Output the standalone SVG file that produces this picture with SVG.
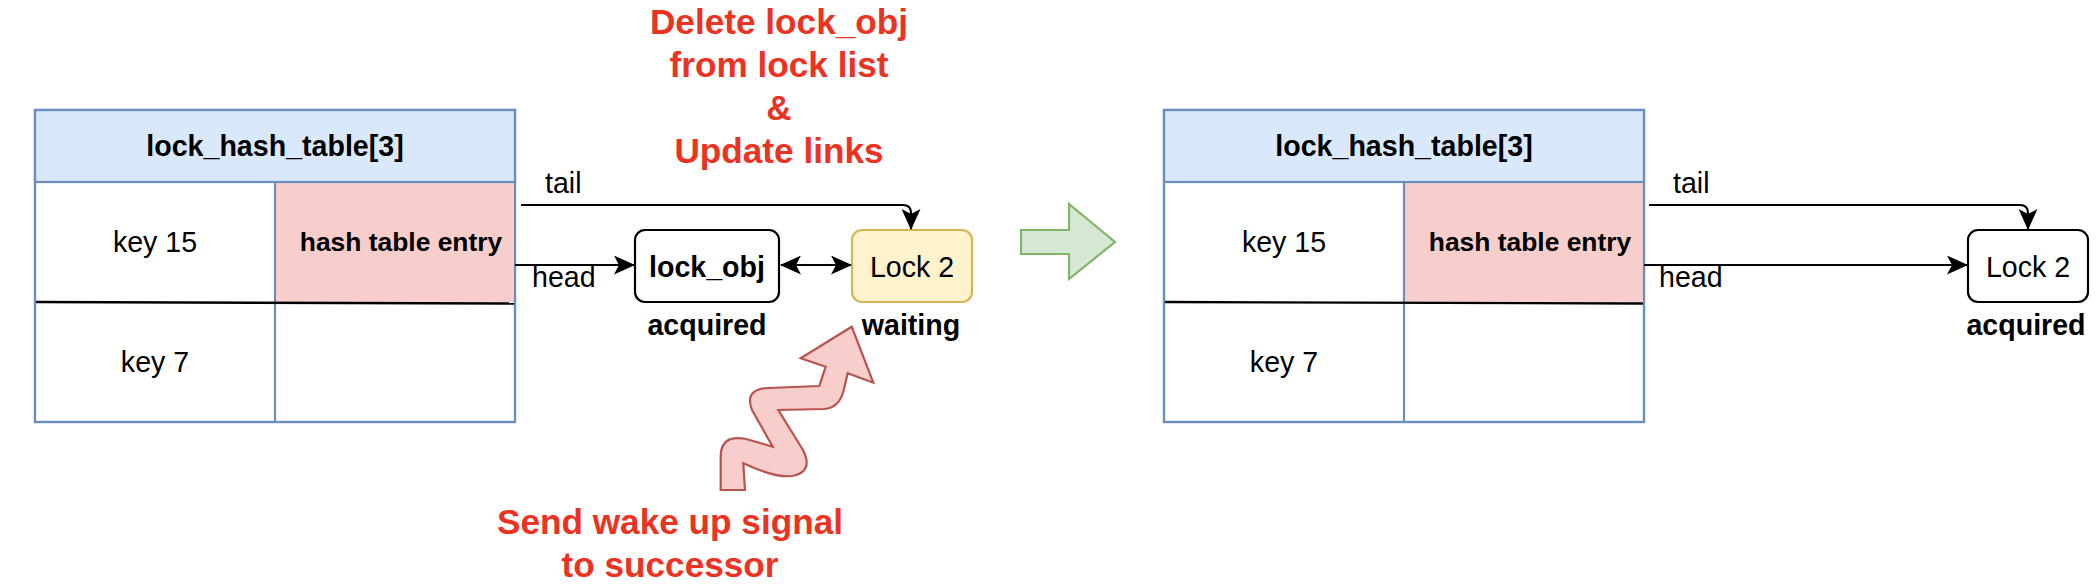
<svg xmlns="http://www.w3.org/2000/svg" width="2098" height="588" viewBox="0 0 2098 588">
<style>
  text { font-family: "Liberation Sans", Arial, Helvetica, sans-serif; fill: #000; }
  .t13 { font-size: 28.6px; }
  .b { font-weight: bold; }
  .t12 { font-size: 26.4px; }
  .red { font-size: 35.2px; font-weight: bold; fill: #ea3323; }
  .mid { text-anchor: middle; }
  .tbl { fill: #ffffff; stroke: #6c8ebf; stroke-width: 2.2; }
  .hdr { fill: #dae8fc; stroke: #6c8ebf; stroke-width: 2.2; }
  .pink { fill: #f8cecc; stroke: none; }
  .div { stroke: #6c8ebf; stroke-width: 2.2; fill: none; }
  .row { stroke: #000; stroke-width: 2.4; fill: none; }
  .lock { fill: #ffffff; stroke: #000; stroke-width: 2.2; }
  .lockw { fill: #fff2cc; stroke: #d6b656; stroke-width: 2.2; }
  .edge { fill: none; stroke: #000; stroke-width: 2.2; }
</style>
<defs>
  <marker id="arr" markerUnits="userSpaceOnUse" viewBox="0 0 21 19" refX="20" refY="9.5" markerWidth="21" markerHeight="19" orient="auto-start-reverse">
    <path d="M0,0 L21,9.5 L0,19 L5,9.5 Z" fill="#000"/>
  </marker>
</defs>

<!-- Left table -->
<g id="table-left">
  <rect class="tbl" x="35" y="110" width="480" height="312"/>
  <rect class="pink" x="275" y="182" width="240" height="120"/>
  <rect class="hdr" x="35" y="110" width="480" height="72"/>
  <line class="div" x1="275" y1="182" x2="275" y2="422"/>
  <line class="row" x1="35" y1="302" x2="515" y2="303.5"/>
  <rect x="35" y="110" width="480" height="312" fill="none" stroke="#6c8ebf" stroke-width="2.2"/>
  <text class="t13 b mid" x="275" y="156">lock_hash_table[3]</text>
  <text class="t13 mid" x="155" y="252">key 15</text>
  <text class="t12 b mid" x="401" y="251">hash table entry</text>
  <text class="t13 mid" x="155" y="372">key 7</text>
</g>

<g id="lock-obj">
  <rect class="lock" x="635" y="230" width="144" height="72" rx="10"/>
  <text class="t13 b mid" x="707" y="277">lock_obj</text>
  <text class="t13 b mid" x="707" y="335">acquired</text>
</g>

<g id="lock2-waiting">
  <rect class="lockw" x="852" y="230" width="120" height="72" rx="10"/>
  <text class="t13 mid" x="912" y="277">Lock 2</text>
  <text class="t13 b mid" x="911" y="335">waiting</text>
</g>

<g id="note-delete">
  <text class="red mid" x="779" y="34">Delete lock_obj</text>
  <text class="red mid" x="779" y="77">from lock list</text>
  <text class="red mid" x="779" y="120">&amp;</text>
  <text class="red mid" x="779" y="163">Update links</text>
</g>

<g id="wake-signal">
  <path d="M825.7,366.7 L800.7,358.3 L851.7,326.7 L873.3,382.7 L847.7,373.3 L843.5,391 Q839,408 824,409 L778.3,410 L803,450 Q814,472 792,476 Q775,478 743.3,463.3 L745,490 L720.7,490 L720.7,456 Q721,434 746,439 L772.7,446.7 L752,410 Q744,389 768,388 L819.3,386 Z" fill="#f8cecc" stroke="#b85450" stroke-width="2.2" stroke-linejoin="miter"/>
  <text class="red mid" x="670" y="534">Send wake up signal</text>
  <text class="red mid" x="670" y="577">to successor</text>
</g>

<g id="transition-arrow">
  <path d="M1021,230 L1069,230 L1069,204 L1115,242 L1069,279 L1069,254 L1021,254 Z" fill="#d5e8d4" stroke="#82b366" stroke-width="2.2"/>
</g>

<!-- Right table -->
<g id="table-right">
  <rect class="tbl" x="1164" y="110" width="480" height="312"/>
  <rect class="pink" x="1404" y="182" width="240" height="120"/>
  <rect class="hdr" x="1164" y="110" width="480" height="72"/>
  <line class="div" x1="1404" y1="182" x2="1404" y2="422"/>
  <line class="row" x1="1164" y1="302" x2="1644" y2="303.5"/>
  <rect x="1164" y="110" width="480" height="312" fill="none" stroke="#6c8ebf" stroke-width="2.2"/>
  <text class="t13 b mid" x="1404" y="156">lock_hash_table[3]</text>
  <text class="t13 mid" x="1284" y="252">key 15</text>
  <text class="t12 b mid" x="1530" y="251">hash table entry</text>
  <text class="t13 mid" x="1284" y="372">key 7</text>
</g>

<g id="lock2-acquired">
  <rect class="lock" x="1968" y="230" width="120" height="72" rx="10"/>
  <text class="t13 mid" x="2028" y="277">Lock 2</text>
  <text class="t13 b mid" x="2026" y="335">acquired</text>
</g>

<g id="connectors">
  <path class="edge" d="M521,205 L903,205 Q911,205 911,213 L911,229" marker-end="url(#arr)"/>
  <text class="t13" x="545" y="193">tail</text>
  <path class="edge" d="M515,265 L634,265" marker-end="url(#arr)"/>
  <text class="t13" x="532" y="287">head</text>
  <path class="edge" d="M781,265 L851,265" marker-start="url(#arr)" marker-end="url(#arr)"/>

  <path class="edge" d="M1649,205 L2020,205 Q2028,205 2028,213 L2028,229" marker-end="url(#arr)"/>
  <text class="t13" x="1673" y="193">tail</text>
  <path class="edge" d="M1644,265 L1967,265" marker-end="url(#arr)"/>
  <text class="t13" x="1659" y="287">head</text>
</g>
</svg>
